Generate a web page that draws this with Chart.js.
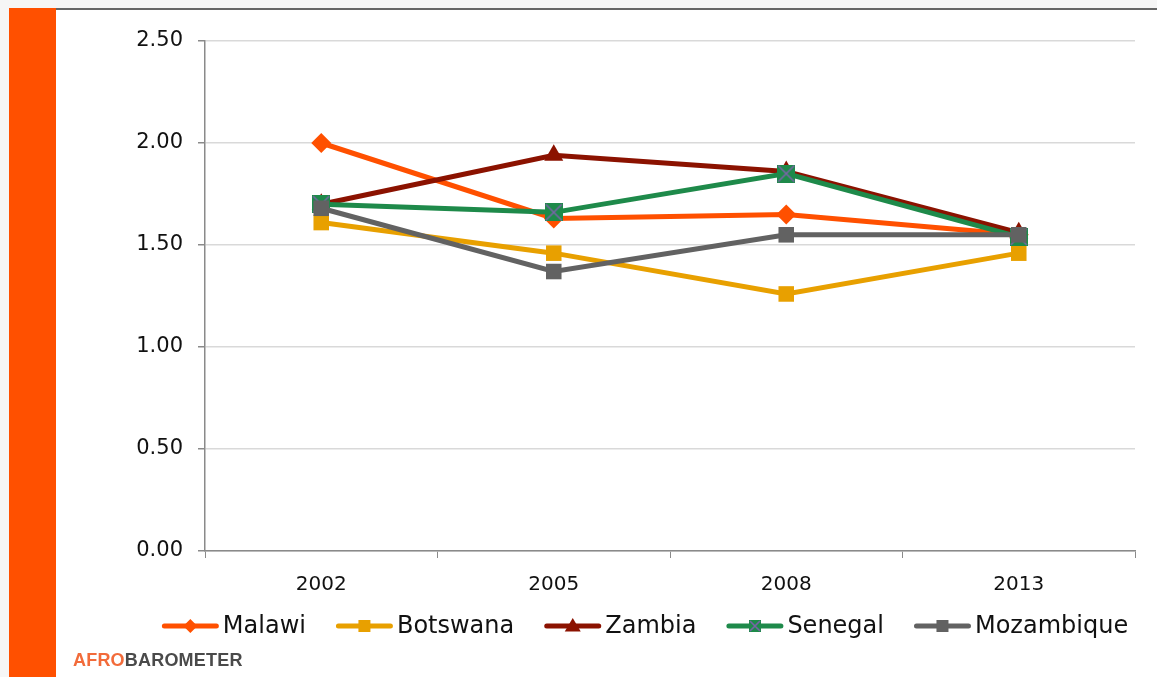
<!DOCTYPE html>
<html>
<head>
<meta charset="utf-8">
<script src="https://cdn.jsdelivr.net/npm/chart.js@4/dist/chart.umd.min.js"></script>
<style>
  html, body { margin: 0; padding: 0; width: 1157px; height: 677px; overflow: hidden; background: #f6f6f6; }
  #orangeBar { position: absolute; left: 9px; top: 8px; width: 47px; height: 669px; background: #ff5000; }
  #panel { position: absolute; left: 56px; top: 8px; width: 1101px; height: 669px; background: #ffffff; border-top: 2px solid #666; box-sizing: border-box; }
  #chartBox { position: absolute; left: 56px; top: 9px; width: 1101px; height: 668px; }
  #logo { position: absolute; left: 73px; top: 650px; font: bold 18px "Liberation Sans", Arial, sans-serif; letter-spacing: 0.2px; color: #4a4a4a; }
  #logo span { color: #f26b3a; }
</style>
</head>
<body>
<div id="orangeBar"></div>
<div id="panel"></div>
<div id="chartBox"><canvas id="trendChart"></canvas></div>
<div id="logo"><span>AFRO</span>BAROMETER</div>
<script>
// survey rounds and country series
const years = ["2002", "2005", "2008", "2013"];
const countryNames = ["Malawi", "Botswana", "Zambia", "Senegal", "Mozambique"];
const malawiValues = [2.00, 1.63, 1.65, 1.55];
const botswanaValues = [1.61, 1.46, 1.26, 1.46];
const zambiaValues = [1.70, 1.94, 1.86, 1.56];
const senegalValues = [1.70, 1.66, 1.85, 1.54];
const mozambiqueValues = [1.68, 1.37, 1.55, 1.55];
const yTicks = [0, 0.5, 1.0, 1.5, 2.0, 2.5];

const colors = ["#ff5000", "#e8a000", "#8b1200", "#1e8a4a", "#626262"];
const markerStyles = ["rectRot", "rect", "triangle", "senegal", "rect"];

// green square with purple cross, used for Senegal
function makeSenegalMarker(size) {
  const c = document.createElement("canvas");
  c.width = size; c.height = size;
  const ctx = c.getContext("2d");
  ctx.fillStyle = "#1e8a4a";
  ctx.fillRect(0, 0, size, size);
  ctx.strokeStyle = "#7a64a8";
  ctx.lineWidth = 1.6;
  ctx.beginPath();
  ctx.moveTo(1, 1); ctx.lineTo(size - 1, size - 1);
  ctx.moveTo(size - 1, 1); ctx.lineTo(1, size - 1);
  ctx.stroke();
  return c;
}

function drawMarker(ctx, style, color, cx, cy, r) {
  ctx.fillStyle = color;
  ctx.beginPath();
  if (style === "rectRot") {
    ctx.moveTo(cx, cy - r); ctx.lineTo(cx + r, cy); ctx.lineTo(cx, cy + r); ctx.lineTo(cx - r, cy);
    ctx.closePath(); ctx.fill();
  } else if (style === "triangle") {
    ctx.moveTo(cx, cy - r); ctx.lineTo(cx + r, cy + r * 0.7); ctx.lineTo(cx - r, cy + r * 0.7);
    ctx.closePath(); ctx.fill();
  } else if (style === "senegal") {
    ctx.drawImage(makeSenegalMarker(2 * r), cx - r, cy - r);
  } else {
    ctx.fillRect(cx - r, cy - r, 2 * r, 2 * r);
  }
}

// legend like the office one: short line with the marker in the middle, then the name
const lineLegend = {
  id: "lineLegend",
  afterDraw(chart) {
    const ctx = chart.ctx;
    const area = chart.chartArea;
    const lineLength = 57, textGap = 4, itemGap = 30;
    ctx.save();
    ctx.font = '24px "DejaVu Sans"';
    ctx.textBaseline = "middle";
    const widths = chart.data.datasets.map((ds) => lineLength + textGap + ctx.measureText(ds.label).width);
    const total = widths.reduce((a, b) => a + b, 0) + itemGap * (widths.length - 1);
    let x = (area.left + area.right) / 2 - 25 - total / 2;
    const y = area.bottom + 75;
    chart.data.datasets.forEach((ds, i) => {
      ctx.strokeStyle = ds.borderColor;
      ctx.lineWidth = 5;
      ctx.lineCap = "round";
      ctx.beginPath();
      ctx.moveTo(x + 2.5, y); ctx.lineTo(x + lineLength - 2.5, y);
      ctx.stroke();
      const style = markerStyles[i];
      const r = style === "rectRot" ? 7 : (style === "triangle" ? 8 : 6);
      drawMarker(ctx, style, ds.borderColor, x + lineLength / 2, y, r);
      ctx.fillStyle = "#111";
      ctx.fillText(ds.label, x + lineLength + textGap, y + 1);
      x += widths[i] + itemGap;
    });
    ctx.restore();
  },
};

const senegalPoint = makeSenegalMarker(18);
const seriesValues = [malawiValues, botswanaValues, zambiaValues, senegalValues, mozambiqueValues];

const datasets = countryNames.map((name, i) => ({
  label: name,
  data: seriesValues[i],
  borderColor: colors[i],
  backgroundColor: colors[i],
  borderWidth: 5,
  pointStyle: markerStyles[i] === "senegal" ? senegalPoint : markerStyles[i],
  pointRadius: markerStyles[i] === "rectRot" ? 10 : 11,
  pointBorderWidth: 0,
  tension: 0,
  order: countryNames.length - i,
}));

const chartElement = document.getElementById("trendChart");
new Chart(chartElement.getContext("2d"), {
  type: "line",
  data: { labels: years, datasets: datasets },
  plugins: [lineLegend],
  options: {
    responsive: true,
    maintainAspectRatio: false,
    animation: false,
    layout: { padding: { top: 32, right: 22, bottom: 76, left: 0 } },
    plugins: {
      tooltip: { enabled: false },
      legend: { display: false },
    },
    scales: {
      x: {
        offset: true,
        afterFit: (scale) => { scale.height = 50; },
        grid: { display: true, drawOnChartArea: false, drawTicks: true, tickLength: 7, tickColor: "#8a8a8a", offset: true },
        border: { color: "#8a8a8a", width: 1.5 },
        ticks: { padding: 15, color: "#111", font: { family: "DejaVu Sans", size: 20 } },
      },
      y: {
        min: 0,
        max: 2.5,
        afterFit: (scale) => { scale.width = 149; },
        afterBuildTicks: (scale) => { scale.ticks = yTicks.map((v) => ({ value: v })); },
        grid: { color: "#d9d9d9", lineWidth: 1.5, tickLength: 7, tickColor: "#8a8a8a" },
        border: { color: "#8a8a8a", width: 1.5 },
        ticks: {
          padding: 15,
          color: "#111",
          font: { family: "DejaVu Sans", size: 21 },
          callback: (value) => Number(value).toFixed(2),
        },
      },
    },
  },
});
</script>
</body>
</html>
